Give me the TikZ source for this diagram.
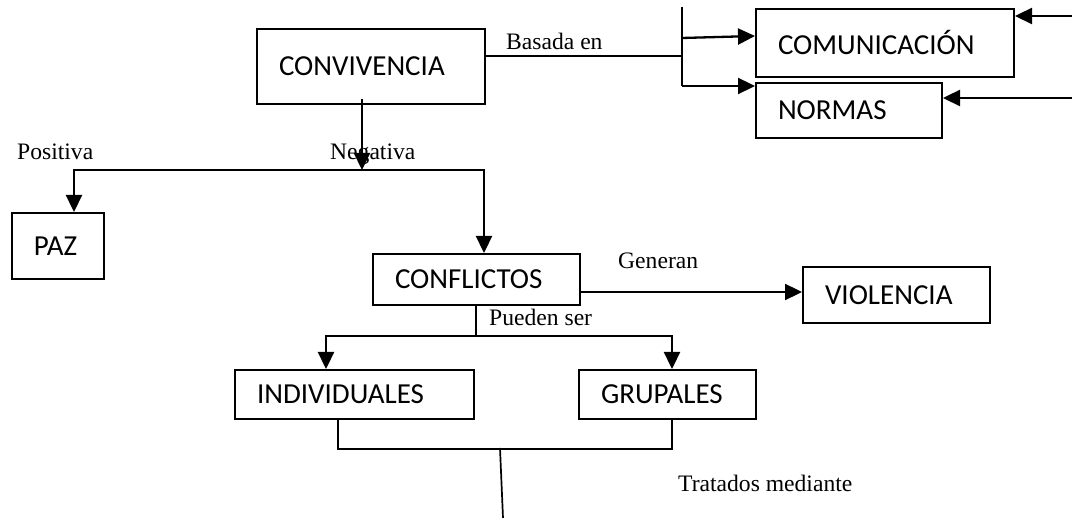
\documentclass[tikz,border=0pt]{standalone}
\usepackage{fontspec}
\setmainfont{Liberation Serif}
\newfontfamily\boxfont{Carlito}
\usetikzlibrary{arrows.meta}

\begin{document}
\begin{tikzpicture}[x=1pt,y=-1pt,>={Triangle[length=17pt,width=16pt]},
    concepto/.style={draw,line width=2pt,inner xsep=22pt,align=left,
        font=\boxfont\fontsize{29}{34}\selectfont},
    enlace/.style={font=\fontsize{23.6}{28}\selectfont,anchor=base west,inner sep=0pt},
    flecha/.style={->,line width=2.3pt},
    linea/.style={line width=1.7pt}]
    \useasboundingbox (0,0) rectangle (1072,518);

    % conceptos
    \node[concepto,text width=184pt,minimum height=75pt] (conv)   at (371,66.5)   {CONVIVENCIA};
    \node[concepto,text width=214pt,minimum height=68pt] (comu)   at (885,43)     {COMUNICACIÓN};
    \node[concepto,text width=142pt,minimum height=55pt] (normas) at (849,110.5)  {NORMAS};
    \node[concepto,text width=48pt,minimum height=66pt]  (paz)    at (58,246)     {PAZ};
    \node[concepto,text width=163pt,minimum height=51pt] (confl)  at (476.5,279.5){CONFLICTOS};
    \node[concepto,text width=143pt,minimum height=56pt] (viol)   at (896.5,295)  {VIOLENCIA};
    \node[concepto,text width=195pt,minimum height=49pt] (indiv)  at (354.5,394.5){INDIVIDUALES};
    \node[concepto,text width=133pt,minimum height=49pt] (grup)   at (667.5,394.5){GRUPALES};

    % puntos de union
    \coordinate (neg)    at (362,170);
    \coordinate (bustop) at (682,7);
    \coordinate (busmid) at (682,38);
    \coordinate (bus)    at (682,56);
    \coordinate (busbot) at (682,86);
    \coordinate (comin)  at (1072,16);
    \coordinate (norin)  at (1072,98);
    \coordinate (gen)    at ([yshift=-12.5pt]confl.east);
    \coordinate (pj)     at (476,336);
    \coordinate (trat)   at (500,448);
    \coordinate (tratend) at (503,518);

    % enlaces
    \node[enlace] (basada)  at (506,50)  {Basada en};
    \node[enlace] (positiva) at (17,160) {Positiva};
    \node[enlace] (negativa) at (330,160) {Negativa};
    \node[enlace] (generan) at (618,269) {Generan};
    \node[enlace] (pueden)  at (489,326) {Pueden ser};
    \node[enlace] (tratados) at (678,492) {Tratados mediante};

    % conectores
    \draw[flecha] ([yshift=6pt]conv.south -| neg) -- (neg);
    \draw[flecha] (neg) -| ([xshift=16pt]paz.north);
    \draw[flecha] (neg) -| ([xshift=7.5pt]confl.north);
    \draw[linea] ([yshift=10.5pt]conv.east) -- (bus);
    \draw[linea] (bustop) -- (busbot);
    \draw[flecha] (busmid) -- ([yshift=7pt]comu.west);
    \draw[flecha] (busbot) -- (busbot -| normas.west);
    \draw[flecha] (comin) -- (comin -| comu.east);
    \draw[flecha] (norin) -- (norin -| normas.east);
    \draw[flecha] (gen) -- (gen -| viol.west);
    \draw[linea] (pj |- confl.south) -- (pj);
    \draw[flecha] (pj) -| ([xshift=-28.5pt]indiv.north);
    \draw[flecha] (pj) -| ([xshift=4.5pt]grup.north);
    \draw[linea] ([xshift=-16.5pt]indiv.south) -- ++(0,29) -| ([xshift=4.5pt]grup.south);
    \draw[linea] (trat) -- (tratend);
\end{tikzpicture}
\end{document}
